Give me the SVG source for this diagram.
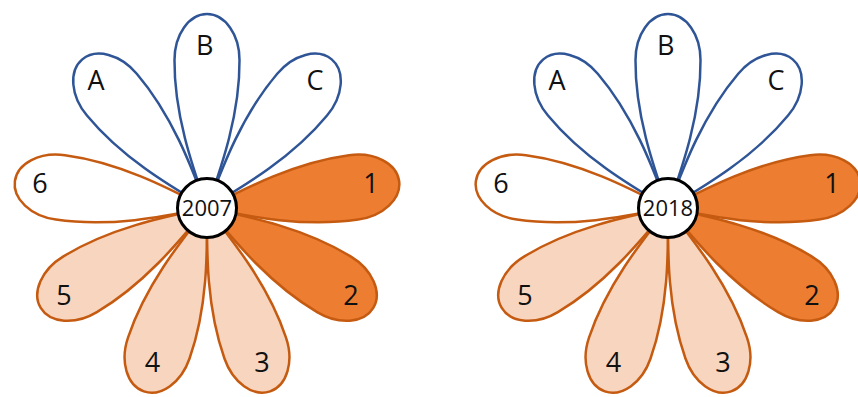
<svg xmlns="http://www.w3.org/2000/svg" xmlns:xlink="http://www.w3.org/1999/xlink" width="858" height="397" viewBox="0 0 858 397">
<style>
  .p { stroke-width: 2.5; stroke-linejoin: round; }
  .blue { fill: #ffffff; stroke: #2F5597; }
  .white { fill: #ffffff; stroke: #C55A11; }
  .light { fill: #F8D5BE; stroke: #C55A11; }
  .dark { fill: #ED7D31; stroke: #C55A11; }
  .lbl { font-family: "Open Sans", "Noto Sans", "Liberation Sans", sans-serif; font-size: 27px; fill: #111111; text-anchor: middle; }
  .ctr { fill: #ffffff; stroke: #000000; stroke-width: 3; }
  .yr { font-family: "Open Sans", "Noto Sans", "Liberation Sans", sans-serif; font-size: 22px; fill: #111111; text-anchor: middle; }
</style>
<defs>
  <path id="petal" d="M0,0 C40,-14 93,-33 148,-32.5 A46,32.5 0 0 1 148,32.5 C93,33 40,14 0,0 Z"/>
</defs>
<rect width="858" height="397" fill="#ffffff"/>

<g id="flower2007" transform="translate(207,208)">
  <g id="f2007-B"><use xlink:href="#petal" class="p blue" transform="rotate(-90)"/><text class="lbl" x="-2.3" y="-153">B</text></g>
  <g id="f2007-A"><use xlink:href="#petal" class="p blue" transform="rotate(-130)"/><text class="lbl" x="-111" y="-118">A</text></g>
  <g id="f2007-C"><use xlink:href="#petal" class="p blue" transform="rotate(-50)"/><text class="lbl" x="108" y="-118">C</text></g>
  <g id="f2007-6"><use xlink:href="#petal" class="p white" transform="rotate(188)"/><text class="lbl" x="-167" y="-14.7">6</text></g>
  <g id="f2007-1"><use xlink:href="#petal" class="p dark" transform="rotate(-8)"/><text class="lbl" x="164" y="-14.7">1</text></g>
  <g id="f2007-5"><use xlink:href="#petal" class="p light" transform="rotate(149)"/><text class="lbl" x="-143" y="97">5</text></g>
  <g id="f2007-2"><use xlink:href="#petal" class="p dark" transform="rotate(31)"/><text class="lbl" x="144" y="97">2</text></g>
  <g id="f2007-4"><use xlink:href="#petal" class="p light" transform="rotate(109)"/><text class="lbl" x="-54.5" y="163.7">4</text></g>
  <g id="f2007-3"><use xlink:href="#petal" class="p light" transform="rotate(71)"/><text class="lbl" x="55" y="163.7">3</text></g>
  <g id="f2007-center"><circle class="ctr" cx="0" cy="0" r="29.5"/><text class="yr" x="0" y="8">2007</text></g>
</g>

<g id="flower2018" transform="translate(668,208)">
  <g id="f2018-B"><use xlink:href="#petal" class="p blue" transform="rotate(-90)"/><text class="lbl" x="-2.3" y="-153">B</text></g>
  <g id="f2018-A"><use xlink:href="#petal" class="p blue" transform="rotate(-130)"/><text class="lbl" x="-111" y="-118">A</text></g>
  <g id="f2018-C"><use xlink:href="#petal" class="p blue" transform="rotate(-50)"/><text class="lbl" x="108" y="-118">C</text></g>
  <g id="f2018-6"><use xlink:href="#petal" class="p white" transform="rotate(188)"/><text class="lbl" x="-167" y="-14.7">6</text></g>
  <g id="f2018-1"><use xlink:href="#petal" class="p dark" transform="rotate(-8)"/><text class="lbl" x="164" y="-14.7">1</text></g>
  <g id="f2018-5"><use xlink:href="#petal" class="p light" transform="rotate(149)"/><text class="lbl" x="-143" y="97">5</text></g>
  <g id="f2018-2"><use xlink:href="#petal" class="p dark" transform="rotate(31)"/><text class="lbl" x="144" y="97">2</text></g>
  <g id="f2018-4"><use xlink:href="#petal" class="p light" transform="rotate(109)"/><text class="lbl" x="-54.5" y="163.7">4</text></g>
  <g id="f2018-3"><use xlink:href="#petal" class="p light" transform="rotate(71)"/><text class="lbl" x="55" y="163.7">3</text></g>
  <g id="f2018-center"><circle class="ctr" cx="0" cy="0" r="29.5"/><text class="yr" x="0" y="8">2018</text></g>
</g>

<g id="connectors"/>
</svg>
